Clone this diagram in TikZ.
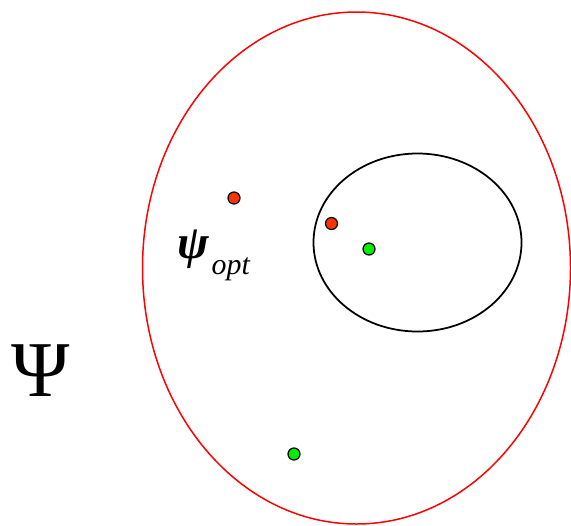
\documentclass[tikz,border=0pt]{standalone}
\usepackage{fontspec}
\setmainfont{Liberation Serif}
\definecolor{dotred}{HTML}{FF3300}
\definecolor{dotgreen}{HTML}{00EE00}
\begin{document}
\begin{tikzpicture}[x=0.02cm, y=-0.02cm,
    every node/.style={inner sep=0pt},
    pt/.style={circle, draw, line width=0.7pt, minimum size=0.24cm}]
        % search space and the neighbourhood
        \useasboundingbox (0,0) rectangle (571,525);
        \coordinate (c1) at (356.5,268);
        \coordinate (c2) at (417.5,242.5);
        \draw[red, line width=0.85pt] (c1) ellipse [x radius=214, y radius=256];
        \draw[black, line width=1pt] (c2) ellipse [x radius=104, y radius=89];
        \node[pt, fill=dotred] (r1) at (234,198) {};
        \node[pt, fill=dotred] (r2) at (331.5,223.5) {};
        \node[pt, fill=dotgreen] (g1) at (369,249) {};
        \node[pt, fill=dotgreen] (g2) at (294,454) {};
        \node[anchor=base west] (psiopt) at (177,258) {\fontsize{27}{28}\selectfont\bfseries\itshape ψ\hspace{1.5pt}\raisebox{-9.6pt}{\fontsize{17}{18}\selectfont\mdseries opt}};
        \node[anchor=base west] (Psi) at (11.5,396) {\fontsize{45}{46}\selectfont Ψ};
    \end{tikzpicture}
\end{document}
